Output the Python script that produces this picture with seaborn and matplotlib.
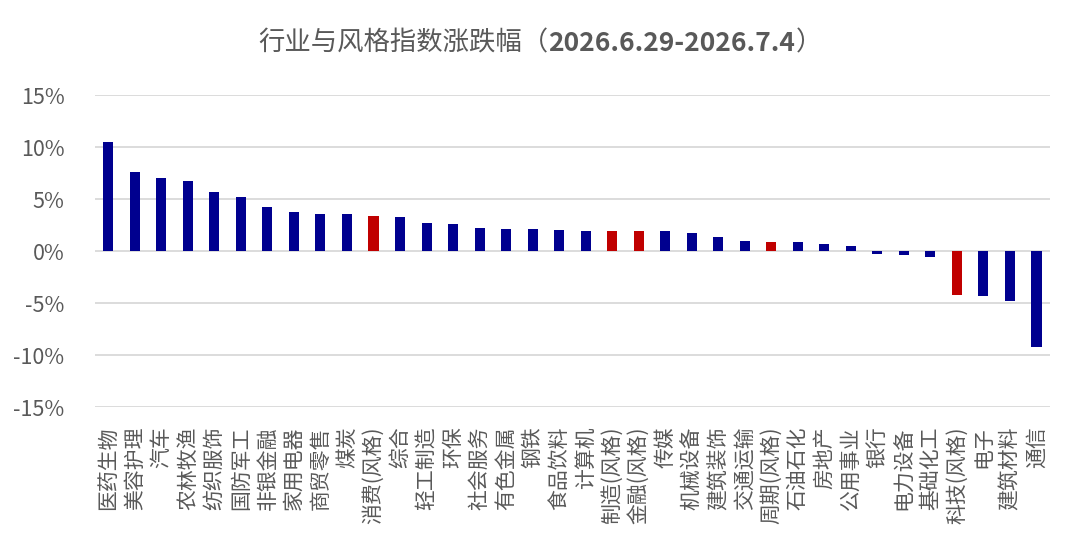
import matplotlib
matplotlib.use("Agg")
import matplotlib.pyplot as plt
import seaborn as sns
from matplotlib.ticker import PercentFormatter, MultipleLocator

# 数据（单位 %）
categories = ['医药生物', '美容护理', '汽车', '农林牧渔', '纺织服饰', '国防军工', '非银金融',
              '家用电器', '商贸零售', '煤炭', '消费(风格)', '综合', '轻工制造', '环保',
              '社会服务', '有色金属', '钢铁', '食品饮料', '计算机', '制造(风格)', '金融(风格)',
              '传媒', '机械设备', '建筑装饰', '交通运输', '周期(风格)', '石油石化', '房地产',
              '公用事业', '银行', '电力设备', '基础化工', '科技(风格)', '电子', '建筑材料', '通信']
changes = [10.48, 7.61, 7.06, 6.71, 5.68, 5.19, 4.29, 3.81, 3.61, 3.61, 3.42, 3.26, 2.68, 2.58,
           2.23, 2.16, 2.10, 2.00, 1.94, 1.94, 1.94, 1.94, 1.74, 1.35, 0.97, 0.84, 0.87, 0.68,
           0.48, -0.30, -0.38, -0.60, -4.26, -4.32, -4.80, -9.20]

BLUE = '#00008F'
RED = '#C00000'
GREY = '#595959'

sns.set_theme(style='white')
plt.rcParams['font.family'] = ['Noto Sans CJK SC', 'DejaVu Sans']
plt.rcParams['axes.unicode_minus'] = False

fig = plt.figure(figsize=(10.8, 5.6), dpi=100)
ax = fig.add_axes([0.088, 0.273, 0.884, 0.557])

# 风格指数用红色
colors = [RED if '风格' in c else BLUE for c in categories]
sns.barplot(x=categories, y=changes, hue=categories, palette=colors, dodge=False,
            legend=False, width=0.38, ax=ax, saturation=1, linewidth=0)

ax.set_ylim(-15, 15)
ax.set_xlim(-0.5, len(categories) - 0.5)
ax.yaxis.set_major_locator(MultipleLocator(5))
ax.yaxis.set_major_formatter(PercentFormatter(decimals=0))
ax.grid(axis='y', color='#D9D9D9', linewidth=1.3)
ax.set_axisbelow(True)
for s in ax.spines.values():
    s.set_visible(False)

ax.tick_params(axis='y', labelsize=15.5, labelcolor=GREY, length=0, pad=22)
ax.tick_params(axis='x', labelsize=15, labelcolor=GREY, length=0, pad=14)
plt.setp(ax.get_xticklabels(), rotation=90)
ax.set_xlabel('')
ax.set_ylabel('')

# 标题：中文常规，日期加粗
t1 = fig.text(0.5, 0.923, '行业与风格指数涨跌幅（', fontsize=19, color=GREY,
              ha='right', va='center')
t2 = fig.text(0.5, 0.923, '2026.6.29-2026.7.4', fontsize=19, color=GREY,
              fontweight='bold', ha='left', va='center')
t3 = fig.text(0.5, 0.923, '）', fontsize=19, color=GREY, ha='left', va='center')

# 把三段标题拼在一起并整体居中
fig.canvas.draw()
r = fig.canvas.get_renderer()
w1 = t1.get_window_extent(r).width
w2 = t2.get_window_extent(r).width
w3 = t3.get_window_extent(r).width
W = fig.bbox.width
start = (W - (w1 + w2 + w3)) / 2
t1.set_x((start + w1) / W)
t2.set_x((start + w1) / W)
t3.set_x((start + w1 + w2) / W)

fig.savefig('out.png', dpi=100)
